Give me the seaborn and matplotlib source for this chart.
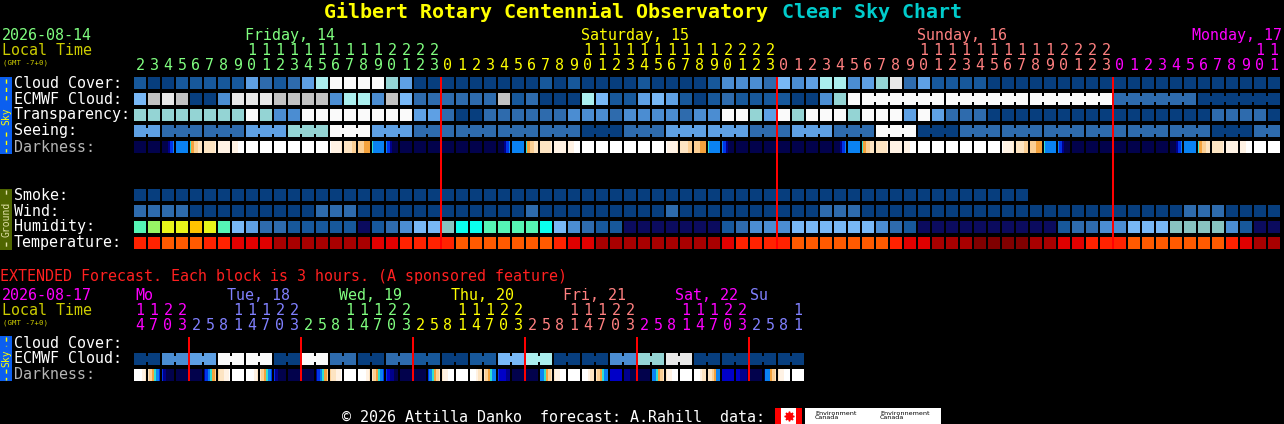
import numpy as np
import matplotlib
matplotlib.use("Agg")
import matplotlib.pyplot as plt
from matplotlib.colors import ListedColormap
from matplotlib.patches import Rectangle
import seaborn as sns

sns.set_theme(style="white")
plt.rcParams["font.family"] = ["DejaVu Sans Mono", "DejaVu Sans"]

# ------------------------------------------------------------------ data
FRI_HOURS = [2, 3, 4, 5, 6, 7, 8, 9, 10, 11, 12, 13, 14, 15, 16, 17, 18, 19, 20, 21, 22, 23]
SAT_HOURS = [0, 1, 2, 3, 4, 5, 6, 7, 8, 9, 10, 11, 12, 13, 14, 15, 16, 17, 18, 19, 20, 21, 22, 23]
SUN_HOURS = [0, 1, 2, 3, 4, 5, 6, 7, 8, 9, 10, 11, 12, 13, 14, 15, 16, 17, 18, 19, 20, 21, 22, 23]
MON_HOURS = [0, 1, 2, 3, 4, 5, 6, 7, 8, 9, 10, 11]
MAIN_DAYS = ["Friday, 14", "Saturday, 15", "Sunday, 16", "Monday, 17"]

CLOUD_COVER = (
    ["b1", "navy0", "navy0", "b1", "b1", "b1", "b1", "b1", "b4", "b2", "b1", "b2", "b4", "cyan",
     "white", "white", "white", "white", "teal", "b4", "navy0", "navy0"]
    + ["navy0", "navy0", "navy0", "navy0", "navy0", "navy0", "navy0", "b1", "navy0", "b1", "navy0", "navy0",
       "navy0", "navy0", "b1", "navy0", "navy0", "navy0", "navy0", "b1", "b3", "b3", "b3", "b2"]
    + ["b5", "b3", "b4", "cyan", "cyan", "b3", "b4", "teal", "lgray", "b2", "b4", "b1", "b1", "b1", "b1",
       "navy0", "navy0", "navy0", "navy0", "navy0", "navy0", "navy0", "navy0", "navy0"]
    + ["navy0"] * 12
)
ECMWF_CLOUD = (
    ["b5", "gray", "lgray", "gray", "navy0", "navy0", "b3", "lgray", "lgray", "lgray", "gray", "gray",
     "gray", "gray", "b3", "cyan", "cyan", "b3", "gray", "b5", "b2", "b2"]
    + ["b2", "b2", "b2", "b2", "gray", "b1", "b2", "navy0", "navy0", "navy0", "cyan", "b5", "b1", "b1",
       "b4", "b5", "b4", "b1", "navy0", "b1", "b2", "b1", "b1", "b1"]
    + ["b1", "navy0", "navy0", "b3", "teal", "white"] + ["white"] * 18
    + ["b2"] * 6 + ["navy0"] * 6
)
ECMWF_BLOCK_LEN = [1] * 52 + [6] * 5
TRANSPARENCY = (
    ["teal"] * 8 + ["white", "teal", "b3", "b3"] + ["white"] * 8 + ["b4", "b4"]
    + ["b2", "navy0", "navy0", "b2", "b2", "b2", "b2", "b2", "b2", "b3", "b3", "b3", "b2", "b3", "b3",
       "b3", "b3", "b2", "b3", "b3", "white", "white", "teal", "b4"]
    + ["white", "teal", "white", "white", "white", "teal", "white", "white", "white", "b4", "white", "b4",
       "b2", "b2", "b2"] + ["navy0"] * 9
    + ["navy0"] * 7 + ["b2", "b2", "b2", "b2", "navy0"]
)
SEEING_BLOCKS = ["b4", "b2", "b2", "b4", "teal", "white", "b4", "b2", "b2", "b2", "b2", "navy0", "b2", "b4",
                 "b4", "b2", "b4", "b2", "white", "navy0", "b2", "b2", "b2", "b2", "b2", "b2", "navy0", "b2"]
SEEING_BLOCK_LEN = [2] + [3] * 26 + [2]

# darkness: each hour cell read as 6 sub-samples (n night, m/b/B blues, c cyan, o/p/q/r twilight, w day)
FRI_DARK = ["nnnnnn", "nnnnnn", "nnnmbB", "BBBBBB", "coppqq", "qqqqqr", "rrrrrr", "rrrwww",
            "wwwwww", "wwwwww", "wwwwww", "wwwwww", "wwwwww", "wwwwww",
            "wrrrrq", "qqqqpp", "pppooo", "cBBBBB", "Bbmnnn", "nnnnnn", "nnnnnn", "nnnnnn"]
SAT_DARK = ["nnnnnn", "nnnnnn", "nnnnnn", "nnnnnn", "nnnmbB", "BBBBBB", "coppqq", "qqqqqr", "rrrrrr",
            "rrrwww", "wwwwww", "wwwwww", "wwwwww", "wwwwww", "wwwwww", "wwwwww",
            "wrrrrq", "qqqqpp", "pppooo", "cBBBBB", "Bbmnnn", "nnnnnn", "nnnnnn", "nnnnnn"]
SUN_DARK = ["nnnnnn", "nnnnnn", "nnnnnn", "nnnnnn", "nnnmbB", "BBBBBB", "coppqq", "qqqqqr", "rrrrrr",
            "rrrwww", "wwwwww", "wwwwww", "wwwwww", "wwwwww", "wwwwww", "wwwwww",
            "wrrrrq", "qqqqpp", "pppooo", "cBBBBB", "Bbmnnn", "nnnnnn", "nnnnnn", "nnnnnn"]
MON_DARK = ["nnnnnn", "nnnnnn", "nnnnnn", "nnnnnn", "nnnmbB", "BBBBBB", "coppqq", "qqqqqr", "rrrrrr",
            "rrrwww", "wwwwww", "wwwwww"]

SMOKE = ["navy0"] * 64 + [None] * 18
WIND = (["b2"] * 4 + ["navy0"] * 9 + ["b2"] * 3 + ["navy0"] * 6
        + ["navy0"] * 6 + ["b2"] + ["navy0"] * 9 + ["b2"] + ["navy0"] * 7
        + ["navy0"] * 3 + ["b2"] * 3 + ["navy0"] * 18
        + ["navy0"] * 5 + ["b2"] * 3 + ["navy0"] * 4)
HUMIDITY = (
    ["mint", "lgreen", "yellow", "yellow", "amber", "yellow", "mint", "b5", "b4", "b2", "b2", "b1", "b1",
     "b1", "b1", "b1", "indigo", "b1", "b2", "b3", "b5", "b5"]
    + ["tgray", "aqua", "aqua", "mint", "mint", "mint", "mint", "aqua", "b5", "b3", "b2", "b1", "b1"]
    + ["indigo"] * 7 + ["b1", "b2", "b3", "b3"]
    + ["b3"] + ["b5"] * 6 + ["b3", "b2", "b1"] + ["indigo"] * 10 + ["b1", "b2", "b2", "b3"]
    + ["b3", "b5", "b5", "b5", "tgray", "tgray", "tgray", "tgray", "b3", "b1", "indigo", "indigo"]
)
TEMPERATURE = (
    ["r1", "r1", "org", "org", "org", "r1", "r1", "r2", "r2", "r2"] + ["r3"] * 7 + ["r2", "r2", "r1", "r1", "r1"]
    + ["r1"] + ["org"] * 7 + ["r1", "r2", "r2"] + ["r3"] * 9 + ["r2", "r1", "r1", "r1"]
    + ["r1"] + ["org"] * 7 + ["r1", "r2", "r2", "r3", "r3", "r3"] + ["maroon"] * 4
    + ["r3", "r3", "r2", "r2", "r1", "r1"]
    + ["r1"] + ["org"] * 7 + ["r1", "r2", "r3", "r3"]
)

# extended forecast (3-hour blocks)
EXT_HOURS = [14, 17, 20, 23,
             2, 5, 8, 11, 14, 17, 20, 23,
             2, 5, 8, 11, 14, 17, 20, 23,
             2, 5, 8, 11, 14, 17, 20, 23,
             2, 5, 8, 11, 14, 17, 20, 23,
             2, 5, 8, 11, 14, 17, 20, 23,
             2, 5, 8, 11]
EXT_DAYS = ["Mo", "Tue, 18", "Wed, 19", "Thu, 20", "Fri, 21", "Sat, 22", "Su"]
EXT_ECMWF_PAIRS = ["navy0", "b3", "b4", "white", "white", "navy0", "white", "b2", "navy0", "b2",
                   "b1", "navy0", "b1", "b5", "cyan", "navy0", "navy0", "b3", "teal", "lgray",
                   "navy0", "navy0", "navy0", "navy0"]
EXT_ECMWF_LEN = [2] * 24
EXT_CLOUD = [None] * 48
EXT_DARK = ["wwwwrq", "qpocBb", "bmnnnn", "nnnnnn",
            "nnnnnn", "mbBcop", "pqqrrw", "wwwwww", "wwwwrq", "qpocBb", "bmnnnn", "nnnnnn",
            "nnnnnn", "mbBcop", "pqqrrw", "wwwwww", "wwwwrq", "qpocBb", "bRmmnn", "nnnnnn",
            "nnnnnn", "bBcopq", "qrrwww", "wwwwww", "wwwrqq", "qpocBB", "bRRRmm", "nnnnnn",
            "nnnnnn", "BBcopq", "qrrwww", "wwwwww", "wwwrqq", "qpocBB", "RRRRRR", "mmmnnn",
            "nnnnnn", "BBcopq", "qrrwww", "wwwwww", "wwwrqq", "qqpoBB", "RRRRRR", "RRmmmn",
            "nnnnnn", "nBBopq", "qrrwww", "wwwwww"]

# ------------------------------------------------------------------ styles
PALETTE = {
    "navy0": "#073e7e", "b1": "#17589b", "b2": "#2e6bad", "b3": "#4b8dd2", "b4": "#5ea0e4",
    "b5": "#78b8f6", "teal": "#94d4d4", "cyan": "#aaeeee", "gray": "#c2c2c2", "lgray": "#e8e8e8",
    "white": "#fafafa", "mint": "#55f5b5", "lgreen": "#98f565", "yellow": "#e8f51a", "amber": "#ffc400",
    "aqua": "#0affee", "tgray": "#88c4c0", "indigo": "#0b0b5e",
    "r1": "#ff2200", "org": "#ff5a00", "r2": "#e00000", "r3": "#a80000", "maroon": "#800000",
    "dn": "#02024c", "dm": "#00008c", "db": "#0034e8", "dB": "#0a82f2", "dc": "#30e0d0",
    "do": "#f4a23c", "dp": "#fbcf94", "dq": "#fde4c2", "dr": "#fff2e4", "dw": "#ffffff", "dR": "#0000c8",
}
KEYS = list(PALETTE.keys())
KEY_INDEX = {k: i for i, k in enumerate(KEYS)}
CMAP = ListedColormap([PALETTE[k] for k in KEYS])

MAIN_DAY_COLORS = ["#80ff80", "#ffff00", "#ff8080", "#ff00ff"]
EXT_DAY_COLORS = ["#ff00ff", "#8080ff", "#80ff80", "#ffff00", "#ff8080", "#ff00ff", "#8080ff"]
EXT_DAY_POS = [0.15, 6.75, 14.75, 22.75, 30.75, 38.75, 44.1]

W, H = 1284, 424
PITCH = 14
GRID_LEFT = 133
FS = 10.8
PX_PT = 0.72


def expand(values, sub):
    return [v for v in values for _ in range(sub)]


def from_blocks(values, lengths):
    cols, gid = [], []
    for i, (v, n) in enumerate(zip(values, lengths)):
        cols += [v] * n
        gid += [i] * n
    return cols, gid


def dark_keys(cells):
    return [("d" + ch) for cell in cells for ch in cell]


fig = plt.figure(figsize=(W / 100, H / 100), dpi=100, facecolor="black")
bg = fig.add_axes([0, 0, 1, 1])
bg.set_xlim(0, W)
bg.set_ylim(H, 0)
bg.axis("off")


def draw_grid(rows, groups, top, ncols, sub, row_h=16):
    nrows = len(rows)
    ax = fig.add_axes([GRID_LEFT / W, 1 - (top - 2 + nrows * row_h) / H,
                       ncols * PITCH / W, nrows * row_h / H])
    mat = np.array([[np.nan if k is None else KEY_INDEX[k] for k in r] for r in rows], dtype=float)
    sns.heatmap(mat, ax=ax, cmap=CMAP, vmin=-0.5, vmax=len(KEYS) - 0.5, cbar=False,
                xticklabels=False, yticklabels=False, mask=np.isnan(mat), linewidths=0)
    ax.set_facecolor("black")
    vw = 2 * PX_PT
    hw = 4 * PX_PT
    for r in range(nrows):
        g = groups[r]
        for k in range(ncols + 1):
            x = k * sub
            if 0 < k < ncols and g[k] == g[k - 1]:
                ax.vlines(x, r, r + 5 / 16, colors="black", lw=vw, capstyle="butt")
                ax.vlines(x, r + 11 / 16, r + 1, colors="black", lw=vw, capstyle="butt")
            else:
                ax.vlines(x, r, r + 1, colors="black", lw=vw, capstyle="butt")
    ax.hlines(list(range(nrows + 1)), 0, ncols * sub, colors="black", lw=hw, capstyle="butt")
    ax.set_xlim(0, ncols * sub)
    ax.set_ylim(nrows, 0)
    ax.set_xlabel("")
    ax.set_ylabel("")
    return ax


# ---------------- main chart
NMAIN = len(FRI_HOURS) + len(SAT_HOURS) + len(SUN_HOURS) + len(MON_HOURS)
MAIN_HOURS = FRI_HOURS + SAT_HOURS + SUN_HOURS + MON_HOURS
MAIN_DAY_IDX = [0] * len(FRI_HOURS) + [1] * len(SAT_HOURS) + [2] * len(SUN_HOURS) + [3] * len(MON_HOURS)
SUB = 6
single = list(range(NMAIN))
ecmwf_cols = ECMWF_CLOUD
_, ecmwf_gid = from_blocks(list(range(len(ECMWF_BLOCK_LEN))), ECMWF_BLOCK_LEN)
seeing_cols, seeing_gid = from_blocks(SEEING_BLOCKS, SEEING_BLOCK_LEN)
darkness = dark_keys(FRI_DARK + SAT_DARK + SUN_DARK + MON_DARK)

draw_grid([expand(CLOUD_COVER, SUB), expand(ecmwf_cols, SUB), expand(TRANSPARENCY, SUB),
           expand(seeing_cols, SUB), darkness],
          [single, ecmwf_gid, single, seeing_gid, single], top=77, ncols=NMAIN, sub=SUB)

draw_grid([SMOKE, WIND, HUMIDITY, TEMPERATURE], [single] * 4, top=189, ncols=NMAIN, sub=1)

# ---------------- extended
NEXT = len(EXT_HOURS)
ext_ecmwf, ext_gid = from_blocks(EXT_ECMWF_PAIRS, EXT_ECMWF_LEN)
ext_single = list(range(NEXT))
draw_grid([expand(EXT_CLOUD, SUB), expand(ext_ecmwf, SUB), dark_keys(EXT_DARK)],
          [ext_single, ext_gid, ext_single], top=337, ncols=NEXT, sub=SUB)

# ---------------- overlays (day lines, hour labels)
ov = fig.add_axes([GRID_LEFT / W, 0, NMAIN * PITCH / W, 1])
ov.set_xlim(0, NMAIN)
ov.set_ylim(H, 0)
ov.axis("off")
ov.patch.set_visible(False)
starts = [k for k in range(1, NMAIN) if MAIN_HOURS[k] < MAIN_HOURS[k - 1]]
ov.vlines(starts, 77, 249, colors="#ff0000", lw=2 * PX_PT)
for k, h in enumerate(MAIN_HOURS):
    c = MAIN_DAY_COLORS[MAIN_DAY_IDX[k]]
    if h >= 10:
        ov.text(k + 0.5, 55, str(h // 10), color=c, fontsize=FS, ha="center", va="baseline")
    ov.text(k + 0.5, 70, str(h % 10), color=c, fontsize=FS, ha="center", va="baseline")
for d, name in enumerate(MAIN_DAYS):
    cols = [k for k in range(NMAIN) if MAIN_DAY_IDX[k] == d and MAIN_HOURS[k] == 10]
    width_cols = len(name) * 0.602 * FS / PX_PT / PITCH
    if cols and cols[0] + width_cols <= NMAIN:
        ov.text(cols[0], 40, name, color=MAIN_DAY_COLORS[d], fontsize=FS, ha="left", va="baseline")
    else:
        ov.text(NMAIN + 0.1, 40, name, color=MAIN_DAY_COLORS[d], fontsize=FS, ha="right", va="baseline")

ov2 = fig.add_axes([GRID_LEFT / W, 0, NEXT * PITCH / W, 1])
ov2.set_xlim(0, NEXT)
ov2.set_ylim(H, 0)
ov2.axis("off")
ov2.patch.set_visible(False)
ext_day = []
d = 0
for k in range(NEXT):
    if k > 0 and EXT_HOURS[k] < EXT_HOURS[k - 1]:
        d += 1
    ext_day.append(d)
ext_starts = [k for k in range(1, NEXT) if EXT_HOURS[k] < EXT_HOURS[k - 1]]
ov2.vlines(ext_starts, 337, 381, colors="#ff0000", lw=2 * PX_PT)
for k, h in enumerate(EXT_HOURS):
    c = EXT_DAY_COLORS[ext_day[k]]
    if h >= 10:
        ov2.text(k + 0.5, 315, str(h // 10), color=c, fontsize=FS, ha="center", va="baseline")
    ov2.text(k + 0.5, 330, str(h % 10), color=c, fontsize=FS, ha="center", va="baseline")
for name, pos, c in zip(EXT_DAYS, EXT_DAY_POS, EXT_DAY_COLORS):
    ov2.text(pos, 300, name, color=c, fontsize=FS, ha="left", va="baseline")

# ---------------- static text
bg.text(324, 17.5, "Gilbert Rotary Centennial Observatory", color="#ffff00", fontsize=14.4,
        fontweight="bold", ha="left", va="baseline")
bg.text(324 + 38 * 0.602 * 14.4 / PX_PT, 17.5, "Clear Sky Chart", color="#00cccc", fontsize=14.4,
        fontweight="bold", ha="left", va="baseline")

bg.text(2, 40, "2026-08-14", color="#80ff80", fontsize=FS, va="baseline")
bg.text(2, 55, "Local Time", color="#cccc00", fontsize=FS, va="baseline")
bg.text(3, 64, "(GMT -7+0)", color="#cccc00", fontsize=5.3, va="baseline")

for lab, y, c in [("Cloud Cover:", 87.5, "white"), ("ECMWF Cloud:", 103.5, "white"),
                  ("Transparency:", 119.5, "white"), ("Seeing:", 135.5, "white"),
                  ("Darkness:", 151.5, "#b4b4b4"),
                  ("Smoke:", 199.5, "white"), ("Wind:", 215.5, "white"),
                  ("Humidity:", 231.5, "white"), ("Temperature:", 247.5, "white")]:
    bg.text(14, y, lab, color=c, fontsize=FS, va="baseline")

bg.text(0, 281, "EXTENDED Forecast. Each block is 3 hours. (A sponsored feature)", color="#ff2020",
        fontsize=FS, va="baseline")
bg.text(2, 300, "2026-08-17", color="#ff00ff", fontsize=FS, va="baseline")
bg.text(2, 315, "Local Time", color="#cccc00", fontsize=FS, va="baseline")
bg.text(3, 324, "(GMT -7+0)", color="#cccc00", fontsize=5.3, va="baseline")
for lab, y, c in [("Cloud Cover:", 347.5, "white"), ("ECMWF Cloud:", 363, "white"),
                  ("Darkness:", 379, "#b4b4b4")]:
    bg.text(14, y, lab, color=c, fontsize=FS, va="baseline")

# side bars
for (y0, y1, col, txt, tcol, ymid, d1, d2) in [
        (77, 154, "#0b5ff0", "Sky", "#ffff00", 116, (79, 101), (132, 152)),
        (189, 250, "#4f6600", "Ground", "#e0e0a8", 219.5, (190, 197), (242, 249)),
        (336, 381, "#0b5ff0", "Sky", "#ffff00", 358.5, (337, 346), (369, 380))]:
    bg.add_patch(Rectangle((0, y0), 12, y1 - y0, color=col, lw=0))
    bg.text(6, ymid, txt, color=tcol, fontsize=7, rotation=90, ha="center", va="center")
    bg.plot([5.5, 5.5], list(d1), color=tcol, lw=1, dashes=(3, 3))
    bg.plot([5.5, 5.5], list(d2), color=tcol, lw=1, dashes=(3, 3))

# footer
bg.text(342, 422.5, "\u00a9 2026 Attilla Danko  forecast: A.Rahill  data:", color="white",
        fontsize=FS, va="baseline")
bg.add_patch(Rectangle((775, 408), 27, 16, color="#ff0000", lw=0))
bg.add_patch(Rectangle((781, 408), 15, 16, color="white", lw=0))
bg.plot([788.5], [415.5], marker=(8, 1, 0), color="#ff0000", ms=7)
bg.add_patch(Rectangle((805, 408), 136, 16, color="white", lw=0))
bg.text(815, 415.5, "Environment\nCanada", color="black", fontsize=4.6, va="center", linespacing=0.9,
        family="DejaVu Sans")
bg.text(880, 415.5, "Environnement\nCanada", color="black", fontsize=4.6, va="center", linespacing=0.9,
        family="DejaVu Sans")

fig.savefig("out.png", dpi=100, facecolor="black")
